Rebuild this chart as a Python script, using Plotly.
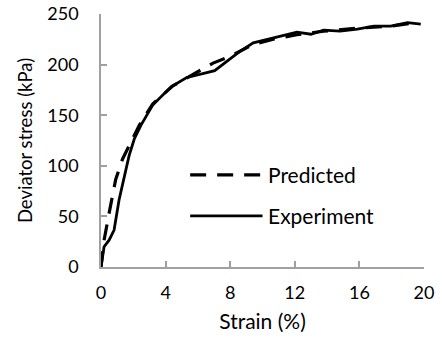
import plotly.graph_objects as go

exp_strain = [0, 0.19, 0.5, 0.81, 1.12, 1.43, 1.74, 2.06, 2.47, 3.2, 3.72, 4.34, 5.28, 6.1, 7.04,
              7.77, 8.6, 9.43, 10.67, 12.13, 13.0, 13.79, 14.8, 15.87, 16.9, 17.94, 18.98, 19.8]
exp_stress = [0, 20, 26.5, 36.5, 66.5, 90, 110, 126.5, 140, 160, 168, 178, 187, 190.5, 194,
              203, 213, 221.5, 226.5, 232, 230, 234, 233, 235, 238, 238, 241.5, 240]

pred_strain = [0, 0.19, 0.5, 0.91, 1.33, 1.74, 2.37, 3.2, 3.6, 4.45, 5.28, 6.31, 6.94, 7.98,
               9.43, 10.67, 12.13, 13.79, 15.87, 17.94, 19.6]
pred_stress = [0, 26.5, 53, 86.5, 106.5, 120, 140, 161, 166.5, 179, 186.5, 196, 201.5, 208,
               220, 225, 229.5, 233, 236, 238, 241.5]

x_ticks = [0, 4, 8, 12, 16, 20]
y_ticks = [0, 50, 100, 150, 200, 250]

FONT = "Lato"
DASH = "16px,11px"
fig = go.Figure()
fig.add_trace(go.Scatter(x=pred_strain, y=pred_stress, mode="lines", name="Predicted",
                         line=dict(color="black", width=3.2, dash=DASH)))
fig.add_trace(go.Scatter(x=exp_strain, y=exp_stress, mode="lines", name="Experiment",
                         line=dict(color="black", width=2.8)))

# manual legend (long sample lines as in reference)
legend_items = [("Predicted", DASH, 3.2, 0.364), ("Experiment", "solid", 2.8, 0.202)]
for label, dash, w, yp in legend_items:
    fig.add_shape(type="line", xref="paper", yref="paper", x0=0.276, x1=0.5, y0=yp, y1=yp,
                  line=dict(color="black", width=w, dash=dash))
    fig.add_annotation(xref="paper", yref="paper", x=0.518, y=yp, text=label, showarrow=False,
                       xanchor="left", yanchor="middle", xshift=-2,
                       font=dict(family=FONT, size=21, color="black"))

axis_common = dict(showline=True, linecolor="#a0a0a0", linewidth=1.5, ticks="inside",
                   tickcolor="#a0a0a0", ticklen=6, tickwidth=1.5, showgrid=False, zeroline=False,
                   automargin=False, tickfont=dict(family=FONT, size=18, color="black"))
fig.update_xaxes(range=[0, 20], tickvals=x_ticks,
                 title=dict(text="Strain (%)", font=dict(family=FONT, size=21, color="black"), standoff=12),
                 ticklabelstandoff=9, **axis_common)
fig.update_yaxes(range=[0, 250], tickvals=y_ticks,
                 title=dict(text="Deviator stress (kPa)", font=dict(family=FONT, size=18.5, color="black"), standoff=10),
                 ticklabelstandoff=17, **axis_common)
fig.update_layout(width=442, height=342, margin=dict(l=101, r=18, t=14, b=75),
                  plot_bgcolor="white", paper_bgcolor="white", showlegend=False)
fig.write_html("out.html", config={"displayModeBar": False},
               post_script="document.body.style.margin='0';document.body.style.overflow='hidden';")
